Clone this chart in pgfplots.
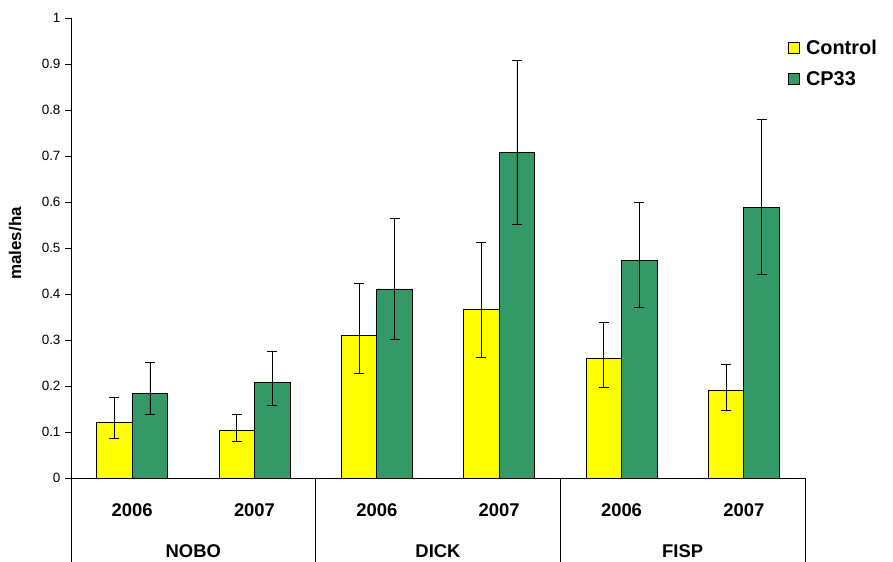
\documentclass[border=0pt]{standalone}
\usepackage{fontspec}
\setmainfont{Liberation Sans}
\usepackage{pgfplots}
\usepackage{pgfplotstable}
\pgfplotsset{compat=1.18}
\definecolor{ctrl}{RGB}{255,255,0}
\definecolor{cpgreen}{RGB}{51,153,102}
\pgfplotstableread{
x y ep em
0 0.121 0.054 0.034
1 0.104 0.034 0.025
2 0.309 0.114 0.082
3 0.366 0.146 0.104
4 0.259 0.079 0.062
5 0.191 0.057 0.043
}\control
\pgfplotstableread{
x y ep em
0 0.183 0.068 0.045
1 0.208 0.068 0.050
2 0.411 0.153 0.110
3 0.707 0.200 0.156
4 0.473 0.127 0.102
5 0.589 0.191 0.147
}\cpdata
\begin{document}
\begin{tikzpicture}
\useasboundingbox (-71bp,-84bp) rectangle (822bp,478bp);
\begin{axis}[
  at={(0,0)}, anchor=south west,
  scale only axis, width=734bp, height=460bp,
  ybar=0pt, bar width=0.29,
  xmin=-0.5, xmax=5.5, ymin=0, ymax=1,
  axis x line*=bottom, axis y line*=left,
  axis line style={black, line width=0.8bp, -},
  clip=false,
  ytick={0,0.1,...,1.01},
  ytick pos=left, tick align=outside,
  major tick length=6bp,
  ytick style={black, line width=0.8bp},
  /pgf/number format/assume math mode=true,
  yticklabel style={font=\fontsize{13.5}{15}\selectfont, xshift=-1bp},
  xtick={0,...,5},
  xticklabels={2006,2007,2006,2007,2006,2007},
  xtick style={draw=none},
  xticklabel style={font=\bfseries\fontsize{18.5}{22}\selectfont, anchor=north, yshift=-16bp},
  extra x ticks={0.5,2.5,4.5},
  extra x tick labels={NOBO,DICK,FISP},
  extra x tick style={tick style={draw=none}, ticklabel style={font=\bfseries\fontsize{19}{22}\selectfont, yshift=-41bp}},
  ylabel={males/ha},
  ylabel style={font=\bfseries\fontsize{17}{20}\selectfont, at={(axis description cs:-0.076,0.51)}, anchor=center},
  legend style={draw=none, fill=none, at={(1,1)}, anchor=north west, xshift=-17bp, yshift=-21bp,
    inner xsep=0pt, inner ysep=0pt, row sep=13bp,
    font=\bfseries\fontsize{20}{24}\selectfont,
    nodes={inner ysep=1bp, inner xsep=6bp, anchor=west}},
  legend cell align=left,
  legend image code/.code={\draw[#1, line width=0.8bp] (0bp,-5.5bp) rectangle (11bp,5.5bp);},
]
\addplot+[fill=ctrl, draw=black, line width=0.8bp,
  error bars/.cd, y dir=both, y explicit,
  error bar style={black, line width=0.8bp},
  error mark options={rotate=90, black, mark size=5bp, line width=0.8bp}]
  table[x=x, y=y, y error plus=ep, y error minus=em] {\control};
\addlegendentry{Control}
\addplot+[fill=cpgreen, draw=black, line width=0.8bp,
  error bars/.cd, y dir=both, y explicit,
  error bar style={black, line width=0.8bp},
  error mark options={rotate=90, black, mark size=5bp, line width=0.8bp}]
  table[x=x, y=y, y error plus=ep, y error minus=em] {\cpdata};
\addlegendentry{CP33}
\draw[black, line width=0.8bp] (axis cs:-0.5,0) -- ++(0bp,-90bp);
\draw[black, line width=0.8bp] (axis cs:1.5,0) -- ++(0bp,-90bp);
\draw[black, line width=0.8bp] (axis cs:3.5,0) -- ++(0bp,-90bp);
\draw[black, line width=0.8bp] (axis cs:5.5,0) -- ++(0bp,-90bp);
\end{axis}
\end{tikzpicture}
\end{document}
